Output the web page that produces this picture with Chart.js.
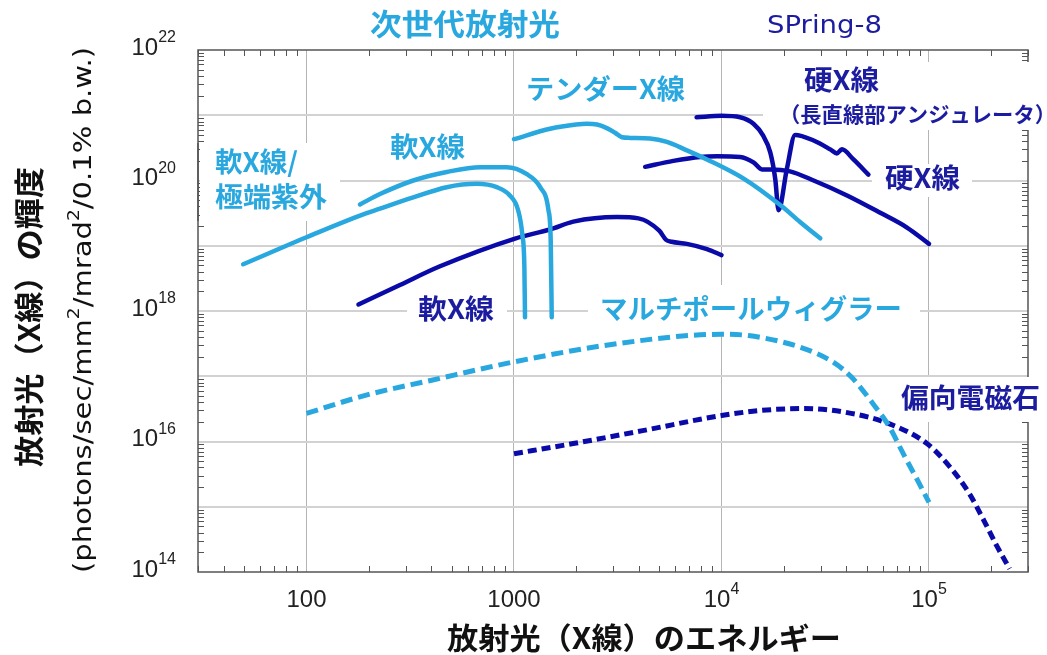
<!DOCTYPE html>
<html id="html">
<head>
<meta charset="utf-8">
<script src="https://cdn.jsdelivr.net/npm/chart.js@4.4.1/dist/chart.umd.min.js"></script>
<style>
body{margin:0;background:#fff;}
#wrap{width:1047px;height:655px;position:relative;}
</style>
</head>
<body>
<div id="wrap"><canvas id="myChart"></canvas></div>
<script>
const lightBlue = '#29a8df'
const darkBlue = '#0a0aa8'
const darkText = '#1c1ca0'
const jp = '"Noto Sans CJK JP", sans-serif'
const dejavu = '"DejaVu Sans", sans-serif'
const arial = '"Liberation Sans", Arial, sans-serif'

// ticks
const xTickVals = [100, 1000, 1e4, 1e5]
const xTickLabels = ['100', '1000', '10^4', '10^5']
const yTickVals = [1e14, 1e16, 1e18, 1e20, 1e22]
const yTickLabels = ['10^14', '10^16', '10^18', '10^20', '10^22']
const yGrid = [1e15, 1e16, 1e17, 1e18, 1e19, 1e20, 1e21]

// energy (eV) and brightness
// next-gen: soft X / EUV
const euvE = [49.5, 100, 181, 226, 327, 474, 661, 826, 955, 1047, 1096, 1122, 1130]
const euvB = [5.2e18, 1.35e19, 2.9e19, 3.7e19, 5.5e19, 7.9e19, 8.9e19, 7.9e19, 5.9e19, 3.5e19, 1.5e19, 4.7e18, 8.0e17]
// next-gen: soft X
const softNE = [181, 226, 327, 474, 687, 923, 1148, 1337, 1466, 1503, 1520]
const softNB = [4.3e19, 6.2e19, 1.0e20, 1.35e20, 1.6e20, 1.6e20, 1.26e20, 7.9e19, 3.5e19, 1.2e19, 8.0e17]
// next-gen: tender X
const tenderE = [1000, 1493, 1995, 2239, 2512, 2818, 3069, 3311, 3631, 4529, 5458, 6808, 8511, 12900, 19190, 23990, 29920]
const tenderB = [4.3e20, 6.2e20, 7.2e20, 7.4e20, 7.2e20, 6.3e20, 5.4e20, 4.6e20, 4.5e20, 4.4e20, 3.9e20, 2.9e20, 2.1e20, 1.05e20, 4.2e19, 2.3e19, 1.3e19]
// SPring-8: soft X
const softSE = [178, 282, 437, 1012, 1493, 1932, 3133, 3981, 5012, 5408, 5754, 6808, 8511, 10000]
const softSB = [1.26e18, 2.5e18, 4.8e18, 1.29e19, 1.78e19, 2.34e19, 2.75e19, 2.63e19, 1.7e19, 1.23e19, 1.15e19, 1.07e19, 8.9e18, 7.2e18]
// SPring-8: hard X
const hardE = [4285, 5861, 7889, 9550, 12300, 14260, 15670, 17180, 21380, 27800, 40270, 58210, 78340, 100000]
const hardB = [1.62e20, 2.0e20, 2.3e20, 2.35e20, 2.3e20, 1.9e20, 1.48e20, 1.48e20, 1.38e20, 1.0e20, 5.9e19, 3.2e19, 1.9e19, 1.07e19]
// SPring-8: hard X, long straight section undulator
const longE = [7586, 10000, 12300, 14260, 15850, 17180, 18160, 18840, 20650, 22650, 27800, 33420, 35970, 38020, 43250, 51050]
const longB = [9.3e20, 9.8e20, 9.3e20, 7.4e20, 4.9e20, 2.7e20, 1.05e20, 3.5e19, 1.5e20, 5.0e20, 4.1e20, 3.0e20, 2.6e20, 3.0e20, 2.1e20, 1.23e20]
// multipole wiggler
const mpwE = [100, 192, 401, 1000, 3236, 10000, 13490, 23820, 34360, 42170, 53700, 64570, 75160, 88310, 100000]
const mpwB = [2.7e16, 5.1e16, 8.7e16, 1.66e17, 3.2e17, 4.4e17, 4.2e17, 2.8e17, 1.66e17, 9.8e16, 3.8e16, 1.66e16, 6.5e15, 2.5e15, 1.17e15]
// bending magnet
const bmE = [1000, 1928, 4236, 10000, 15670, 25120, 42170, 64570, 97720, 125900, 156700, 183700, 213800, 244900]
const bmB = [6.5e15, 9.3e15, 1.48e16, 2.5e16, 3.0e16, 3.2e16, 2.7e16, 1.86e16, 9.3e15, 4.1e15, 1.58e15, 6.2e14, 2.4e14, 1.12e14]

const notes = [
    {text: '次世代放射光', x: 370, y: 24, w: 190, size: 30, color: lightBlue, family: jp, weight: 'bold'},
    {text: 'SPring-8', x: 767, y: 27, w: 115, size: 24, color: darkText, family: dejavu, weight: 'normal'},
    {text: 'テンダーX線', x: 526, y: 89, w: 159, size: 27, color: lightBlue, family: jp, weight: 'bold'},
    {text: '軟X線', x: 390, y: 147, w: 75, size: 27, color: lightBlue, family: jp, weight: 'bold'},
    {text: '軟X線/', x: 215, y: 162, w: 83, size: 27, color: lightBlue, family: jp, weight: 'bold'},
    {text: '極端紫外', x: 215, y: 197, w: 112, size: 27, color: lightBlue, family: jp, weight: 'bold'},
    {text: '硬X線', x: 804, y: 80, w: 75, size: 27, color: darkText, family: jp, weight: 'bold'},
    {text: '（長直線部アンジュレータ）', x: 779, y: 114, w: 277, size: 21, color: darkText, family: jp, weight: 'bold'},
    {text: '硬X線', x: 885, y: 178, w: 75, size: 27, color: darkText, family: jp, weight: 'bold'},
    {text: '軟X線', x: 418, y: 309, w: 76, size: 27, color: darkText, family: jp, weight: 'bold'},
    {text: 'マルチポールウィグラー', x: 600, y: 309, w: 302, size: 27, color: lightBlue, family: jp, weight: 'bold'},
    {text: '偏向電磁石', x: 901, y: 398, w: 139, size: 27, color: darkText, family: jp, weight: 'bold'}
]
// white boxes behind the notes (x, y, w, h)
const boxes = [[200, 143, 140, 78], [380, 132, 95, 32], [518, 72, 176, 36], [763, 62, 290, 68],
    [872, 164, 100, 33], [407, 292, 100, 36], [588, 285, 332, 48], [890, 377, 160, 45]]

const pts = (xs, ys) => xs.map((x, i) => ({x: x, y: ys[i]}))

const fitText = (ctx, n) => {
    ctx.save()
    ctx.font = `${n.weight} ${n.size}px ${n.family}`
    ctx.fillStyle = n.color
    ctx.textAlign = 'left'
    ctx.textBaseline = 'middle'
    const tw = ctx.measureText(n.text).width
    ctx.translate(n.x, n.y)
    ctx.scale(n.w / tw, 1)
    ctx.fillText(n.text, 0, 0)
    ctx.restore()
}

const richText = (ctx, text, x, y, o) => {
    const parts = text.split(/\^(\d+)/)
    const fonts = parts.map((p, i) => `${o.weight || 'normal'} ${i % 2 ? o.sup : o.size}px ${o.family}`)
    const widths = parts.map((p, i) => { ctx.font = fonts[i]; return ctx.measureText(p).width })
    const total = widths.reduce((s, v) => s + v, 0)
    ctx.save()
    ctx.fillStyle = o.color
    ctx.textBaseline = 'middle'
    ctx.textAlign = 'left'
    ctx.translate(x, y)
    if (o.rotate) ctx.rotate(-Math.PI / 2)
    ctx.scale(o.width ? o.width / total : 1, 1)
    let cx = o.align === 'right' ? -total : o.align === 'left' ? 0 : -total / 2
    parts.forEach((p, i) => {
        ctx.font = fonts[i]
        ctx.fillText(p, cx, i % 2 ? -o.rise : 0)
        cx += widths[i]
    })
    ctx.restore()
}

const deco = {
    id: 'deco',
    beforeDatasetsDraw(chart) {
        const ctx = chart.ctx
        const a = chart.chartArea
        const xs = chart.scales.x
        const ys = chart.scales.y
        ctx.save()
        ctx.strokeStyle = '#555'
        ctx.lineWidth = 1.5
        ctx.strokeRect(a.left, a.top, a.right - a.left, a.bottom - a.top)
        ctx.lineWidth = 1
        ctx.beginPath()
        for (let d = 10; d <= 1e5; d *= 10) {
            for (let k = 2; k <= 9; k++) {
                const v = k * d
                if (v < xs.min || v > xs.max) continue
                const px = Math.round(xs.getPixelForValue(v)) + 0.5
                ctx.moveTo(px, a.bottom); ctx.lineTo(px, a.bottom - 6)
                ctx.moveTo(px, a.top); ctx.lineTo(px, a.top + 6)
            }
        }
        for (let d = 1e14; d < 1e22; d *= 10) {
            for (let k = 2; k <= 9; k++) {
                const py = Math.round(ys.getPixelForValue(k * d)) + 0.5
                ctx.moveTo(a.left, py); ctx.lineTo(a.left + 6, py)
                ctx.moveTo(a.right, py); ctx.lineTo(a.right - 6, py)
            }
        }
        ctx.stroke()
        ctx.fillStyle = '#fff'
        boxes.forEach(b => ctx.fillRect(b[0], b[1], b[2], b[3]))
        // keep the left frame edge visible through the first box
        ctx.strokeStyle = '#555'
        ctx.lineWidth = 1.5
        ctx.beginPath()
        ctx.moveTo(a.left, 143); ctx.lineTo(a.left, 221)
        ctx.stroke()
        notes.forEach(n => fitText(ctx, n))
        ctx.restore()
    },
    afterDraw(chart) {
        const ctx = chart.ctx
        const xs = chart.scales.x
        const ys = chart.scales.y
        xTickVals.forEach((v, i) => {
            richText(ctx, xTickLabels[i], xs.getPixelForValue(v), 600, {size: 24, sup: 16, rise: 10, family: arial, color: '#222'})
        })
        yTickVals.forEach((v, i) => {
            richText(ctx, yTickLabels[i], 176, ys.getPixelForValue(v) - 2, {size: 24, sup: 16, rise: 10, family: arial, color: '#222', align: 'right'})
        })
        richText(ctx, '放射光（X線）のエネルギー', 644, 638, {size: 30, family: jp, weight: 'bold', color: '#111', width: 394})
        richText(ctx, '放射光（X線）の輝度', 29, 317, {size: 30, family: jp, weight: 'bold', color: '#111', rotate: true, width: 300})
        richText(ctx, '(photons/sec/mm^2/mrad^2/0.1% b.w.)', 84, 310, {size: 25, sup: 16, rise: 9, family: dejavu, color: '#111', rotate: true, width: 526})
    }
}

const solid = (data, color) => ({
    data: data, borderColor: color, borderWidth: 4.5, pointRadius: 0,
    cubicInterpolationMode: 'monotone', borderCapStyle: 'round', borderJoinStyle: 'round'
})
const dashed = (data, color, dash) => ({
    data: data, borderColor: color, borderWidth: 5, pointRadius: 0, borderDash: dash,
    cubicInterpolationMode: 'monotone'
})

new Chart(document.getElementById('myChart'), {
    type: 'line',
    data: {
        datasets: [
            dashed(pts(mpwE, mpwB), lightBlue, [12, 6]),
            dashed(pts(bmE, bmB), darkBlue, [9, 5]),
            solid(pts(euvE, euvB), lightBlue),
            solid(pts(softNE, softNB), lightBlue),
            solid(pts(softSE, softSB), darkBlue),
            solid(pts(tenderE, tenderB), lightBlue),
            solid(pts(hardE, hardB), darkBlue),
            solid(pts(longE, longB), darkBlue)
        ]
    },
    options: {
        responsive: true,
        maintainAspectRatio: false,
        animation: false,
        events: [],
        layout: {padding: {left: 198, right: 19, top: 50, bottom: 83}},
        plugins: {legend: {display: false}, tooltip: {enabled: false}},
        scales: {
            x: {
                type: 'logarithmic', min: 30, max: 3e5,
                afterBuildTicks: s => { s.ticks = xTickVals.map(v => ({value: v})) },
                ticks: {display: false},
                grid: {color: '#b4b4b4', lineWidth: 1, drawTicks: false},
                border: {display: false}
            },
            y: {
                type: 'logarithmic', min: 1e14, max: 1e22,
                afterBuildTicks: s => { s.ticks = yGrid.map(v => ({value: v})) },
                ticks: {display: false},
                grid: {color: '#d2d2d2', lineWidth: 2, drawTicks: false},
                border: {display: false}
            }
        }
    },
    plugins: [deco]
})
</script>
</body>
</html>
